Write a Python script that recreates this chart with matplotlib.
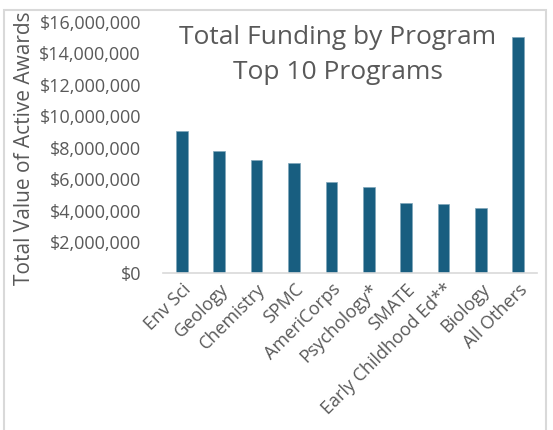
import matplotlib.pyplot as plt
from matplotlib.ticker import FuncFormatter
from matplotlib.patches import Rectangle

programs = ['Env Sci', 'Geology', 'Chemistry', 'SPMC', 'AmeriCorps',
            'Psychology*', 'SMATE', 'Early Childhood Ed**', 'Biology', 'All Others']
funding = [9090000, 7780000, 7200000, 7010000, 5840000,
           5500000, 4460000, 4400000, 4140000, 15040000]

plt.rcParams['font.family'] = ['Open Sans', 'DejaVu Sans']
text_color = '#595959'

fig = plt.figure(figsize=(5.53, 4.3), dpi=100)
ax = fig.add_axes([0.295, 0.364, 0.676, 0.585])

ax.bar(range(len(programs)), funding, width=0.31, color='#185E80',
       edgecolor='#7FA6BA', linewidth=0.5)

ax.set_xlim(-0.5, len(programs) - 0.5)
ax.set_ylim(0, 16000000)
ax.set_yticks(range(0, 16000001, 2000000))
ax.yaxis.set_major_formatter(FuncFormatter(lambda v, p: f'${v:,.0f}'))
ax.set_xticks(range(len(programs)))
ax.set_xticklabels(programs, rotation=45, ha='right', rotation_mode='anchor')
ax.tick_params(axis='y', length=0, labelsize=13, colors=text_color, pad=16)
ax.tick_params(axis='x', length=0, labelsize=13, colors=text_color, pad=5)

for s in ['top', 'right', 'left']:
    ax.spines[s].set_visible(False)
ax.spines['bottom'].set_color('#D9D9D9')
ax.spines['bottom'].set_linewidth(1.2)

ax.set_ylabel('Total Value of Active Awards', fontsize=15, color=text_color, labelpad=3)

fig.text(0.611, 0.872, 'Total Funding by Program\nTop 10 Programs', ha='center', va='center',
         fontsize=19, color=text_color, linespacing=1.5)

# light frame around the chart area (bottom edge runs off the image)
fig.patches.append(Rectangle((0.008, -0.02), 0.979, 0.997, transform=fig.transFigure,
                             fill=False, edgecolor='#D9D9D9', linewidth=1.5))

fig.savefig('out.png', dpi=100)
